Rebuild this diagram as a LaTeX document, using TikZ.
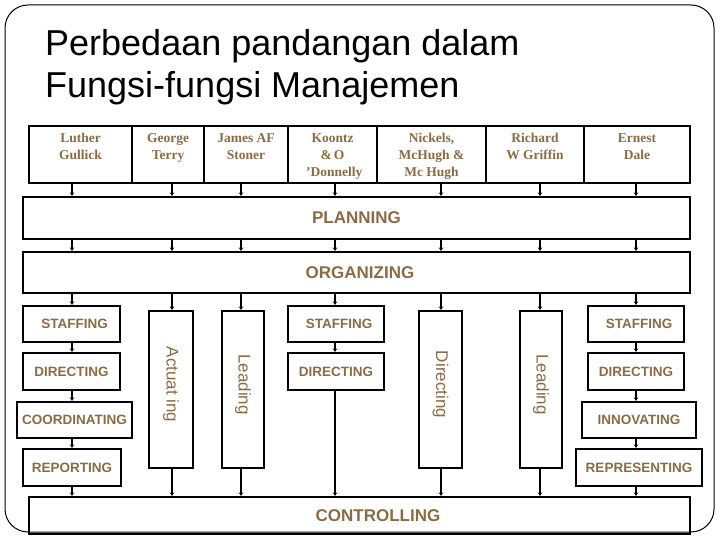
\documentclass[tikz,border=0pt]{standalone}
\usepackage{fontspec}
\setmainfont{Liberation Serif}
\setsansfont{Liberation Sans}
\usetikzlibrary{arrows.meta}
\definecolor{lbl}{RGB}{139,107,66}
\newcommand\authtxt[2]{\parbox[c][49pt][t]{#1}{\vspace*{3.5pt}\centering #2}}
\tikzset{
  box/.style={draw, line width=2.2pt, inner sep=0pt, text=lbl,
    font=\sffamily\bfseries\fontsize{13.5}{15}\selectfont},
  bigbox/.style={box, font=\sffamily\bfseries\fontsize{17}{19}\selectfont},
  vbox/.style={draw, line width=2.2pt, inner sep=0pt, text=lbl,
    font=\sffamily\fontsize{17}{19}\selectfont},
  vtxt/.style={rotate=-90, text=lbl, font=\sffamily\fontsize{17}{19}\selectfont},
  authbox/.style={draw, line width=2.2pt, inner sep=3pt, text=lbl, minimum height=57pt,
    font=\bfseries\fontsize{13.5}{17}\selectfont},
  arr/.style={line width=1.6pt, -{Stealth[length=3.5pt,width=4.5pt]}},
}
\begin{document}
\begin{tikzpicture}[x=1pt,y=-1pt]
\useasboundingbox (0,0) rectangle (720,540);
\draw[line width=1pt, rounded corners=23pt] (5,5) rectangle (714,532);
\node[anchor=base west, font=\sffamily\fontsize{36}{42}\selectfont, align=left, inner sep=0pt] (title) at (45,98)
  {Perbedaan pandangan dalam\\Fungsi-fungsi Manajemen};

% author boxes
\node[authbox, minimum width=103pt] (lg) at (80.5,154.5) {\authtxt{97pt}{Luther\\Gullick}};
\node[authbox, minimum width=72pt] (gt) at (168,154.5) {\authtxt{66pt}{George\\Terry}};
\node[authbox, minimum width=84pt] (ja) at (246,154.5) {\authtxt{78pt}{James AF\\Stoner}};
\node[authbox, minimum width=89pt] (ko) at (332.5,154.5) {\authtxt{83pt}{Koontz\\\&\,O\\\ 'Donnelly}};
\node[authbox, minimum width=109pt] (ni) at (431.5,154.5) {\authtxt{103pt}{Nickels,\\McHugh \&\\Mc Hugh}};
\node[authbox, minimum width=98pt] (rg) at (535,154.5) {\authtxt{92pt}{Richard\\W Griffin}};
\node[authbox, minimum width=106pt] (ed) at (637,154.5) {\authtxt{100pt}{Ernest\\Dale}};

% column coordinates
\coordinate (c1) at (72,0);
\coordinate (c2) at (172,0);
\coordinate (c3) at (241,0);
\coordinate (c4) at (335,0);
\coordinate (c5) at (441,0);
\coordinate (c6) at (540,0);
\coordinate (c7) at (636,0);

\node[bigbox, minimum width=667pt, minimum height=42pt] (plan) at (356.5,218) {PLANNING};
\node[bigbox, minimum width=667pt, minimum height=41pt] (org) at (356.5,272.5) {\hspace*{7pt}ORGANIZING};
\node[bigbox, minimum width=661pt, minimum height=37pt] (ctrl) at (359.5,515.5) {\hspace*{37pt}CONTROLLING};

% left column
\node[box, minimum width=97pt, minimum height=36pt] (s1) at (71.5,324) {\hspace*{6pt}STAFFING};
\node[box, minimum width=97pt, minimum height=37pt] (d1) at (71.5,371.5) {DIRECTING};
\node[box, minimum width=115pt, minimum height=36pt] (co) at (74.5,420) {COORDINATING};
\node[box, minimum width=98pt, minimum height=37pt] (rp) at (72,467.5) {REPORTING};
% verticals
\node[vbox, minimum width=44pt, minimum height=157pt] (act) at (171,389.5) {};
\node[vtxt] at ([yshift=5pt]act.center) {Actuat ing};
\node[vbox, minimum width=42pt, minimum height=157pt] (ld1) at (243,389.5) {};
\node[vtxt] at ([yshift=5pt]ld1.center) {Leading};
\node[vbox, minimum width=43pt, minimum height=157pt] (dir) at (440.5,389.5) {};
\node[vtxt] at ([yshift=5pt]dir.center) {Directing};
\node[vbox, minimum width=42pt, minimum height=157pt] (ld2) at (541,389.5) {};
\node[vtxt] at ([yshift=5pt]ld2.center) {Leading};
% middle column
\node[box, minimum width=96pt, minimum height=36pt] (s2) at (336,324) {\hspace*{6pt}STAFFING};
\node[box, minimum width=96pt, minimum height=37pt] (d2) at (336,371.5) {DIRECTING};
% right column
\node[box, minimum width=96pt, minimum height=36pt] (s3) at (636,324) {\hspace*{6pt}STAFFING};
\node[box, minimum width=96pt, minimum height=37pt] (d3) at (636,371.5) {DIRECTING};
\node[box, minimum width=114pt, minimum height=36pt] (inn) at (639,420) {INNOVATING};
\node[box, minimum width=126pt, minimum height=37pt] (rep) at (639,467.5) {REPRESENTING};

% arrows authors -> planning
\draw[arr] (lg.south -| c1) -- (plan.north -| c1);
\draw[arr] (gt.south -| c2) -- (plan.north -| c2);
\draw[arr] (ja.south -| c3) -- (plan.north -| c3);
\draw[arr] (ko.south -| c4) -- (plan.north -| c4);
\draw[arr] (ni.south -| c5) -- (plan.north -| c5);
\draw[arr] (rg.south -| c6) -- (plan.north -| c6);
\draw[arr] (ed.south -| c7) -- (plan.north -| c7);
% planning -> organizing
\foreach \c in {c1,c2,c3,c4,c5,c6,c7}
  \draw[arr] (plan.south -| \c) -- (org.north -| \c);
% organizing -> level 3
\draw[arr] (org.south -| c1) -- (s1.north -| c1);
\draw[arr] (org.south -| c2) -- (act.north -| c2);
\draw[arr] (org.south -| c3) -- (ld1.north -| c3);
\draw[arr] (org.south -| c4) -- (s2.north -| c4);
\draw[arr] (org.south -| c5) -- (dir.north -| c5);
\draw[arr] (org.south -| c6) -- (ld2.north -| c6);
\draw[arr] (org.south -| c7) -- (s3.north -| c7);
% chains
\draw[arr] (s1.south -| c1) -- (d1.north -| c1);
\draw[arr] (d1.south -| c1) -- (co.north -| c1);
\draw[arr] (co.south -| c1) -- (rp.north -| c1);
\draw[arr] (rp.south -| c1) -- (ctrl.north -| c1);
\draw[arr] (act.south -| c2) -- (ctrl.north -| c2);
\draw[arr] (ld1.south -| c3) -- (ctrl.north -| c3);
\draw[arr] (s2.south -| c4) -- (d2.north -| c4);
\draw[arr] (d2.south -| c4) -- (ctrl.north -| c4);
\draw[arr] (dir.south -| c5) -- (ctrl.north -| c5);
\draw[arr] (ld2.south -| c6) -- (ctrl.north -| c6);
\draw[arr] (s3.south -| c7) -- (d3.north -| c7);
\draw[arr] (d3.south -| c7) -- (inn.north -| c7);
\draw[arr] (inn.south -| c7) -- (rep.north -| c7);
\draw[arr] (rep.south -| c7) -- (ctrl.north -| c7);
\end{tikzpicture}
\end{document}
